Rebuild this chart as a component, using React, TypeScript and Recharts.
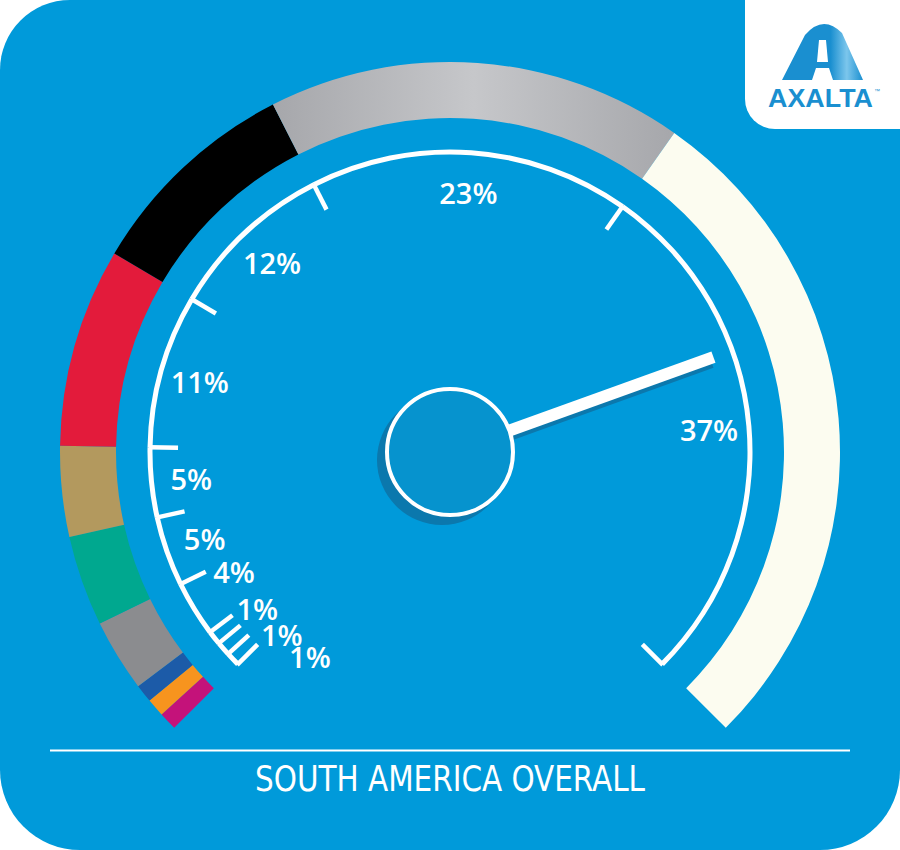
import { PieChart, Pie, Cell } from 'recharts'

// dial segments, read clockwise from the bottom-left end of the gauge
const segmentNames = ['Magenta', 'Orange', 'Blue', 'Gray', 'Green', 'Beige', 'Red', 'Black', 'Silver', 'White']
const shares = [1, 1, 1, 4, 5, 5, 11, 12, 23, 37]
const shareLabels = ['1%', '1%', '1%', '4%', '5%', '5%', '11%', '12%', '23%', '37%']
const needleValue = 76
const title = 'SOUTH AMERICA OVERALL'
const brand = 'AXALTA'

const palette = [
  '#C4127A',
  '#F7941E',
  '#1C5BA8',
  '#8B8C8F',
  '#00A88F',
  '#B3995E',
  '#E31B3B',
  '#000000',
  'url(#silverGrad)',
  '#FCFCF0',
]

const BG = '#009ADA'
const CX = 450
const CY = 452
const START = 225
const END = -45
const RAD = Math.PI / 180

const data = shares.map((value, i) => ({ name: segmentNames[i], value, label: shareLabels[i] }))

const polar = (cx: number, cy: number, r: number, angle: number) => ({
  x: cx + r * Math.cos(-angle * RAD),
  y: cy + r * Math.sin(-angle * RAD),
})

function renderScale(props: any) {
  const { cx, cy, startAngle, endAngle, midAngle, index, percent } = props
  const ticks = [startAngle]
  if (index === data.length - 1) ticks.push(endAngle)
  // the thin slices at the start are crowded, fan their labels out past the end of the dial
  let angle = midAngle
  let r = 260
  if (percent < 0.02) {
    angle = midAngle + 0.75 + (2 - index) * 5.6
    r = 248
  } else if (percent < 0.045) {
    angle = midAngle - 2.5
    r = 247
  }
  const p = polar(cx, cy, r, angle)
  return (
    <g key={`scale-${index}`}>
      {ticks.map((a: number, k: number) => {
        const o = polar(cx, cy, 301, a)
        const n = polar(cx, cy, 272, a)
        return <line key={k} x1={o.x} y1={o.y} x2={n.x} y2={n.y} stroke="#fff" strokeWidth={4.5} />
      })}
      <text
        x={p.x}
        y={p.y}
        fill="#fff"
        textAnchor="middle"
        dominantBaseline="central"
        fontFamily="'Open Sans', sans-serif"
        fontWeight={600}
        fontSize={29}
      >
        {data[index].label}
      </text>
    </g>
  )
}

function Background() {
  return (
    <svg width={900} height={850} style={{ position: 'absolute', left: 0, top: 0 }}>
      <defs>
        <linearGradient id="silverGrad" x1="0" y1="0" x2="1" y2="0">
          <stop offset="0%" stopColor="#A6A7AB" />
          <stop offset="50%" stopColor="#C6C7CA" />
          <stop offset="100%" stopColor="#A6A7AB" />
        </linearGradient>
        <linearGradient id="logoGrad" x1="0" y1="0" x2="1" y2="0">
          <stop offset="0%" stopColor="#1A8FD0" />
          <stop offset="60%" stopColor="#1A8FD0" />
          <stop offset="80%" stopColor="#7CC6EC" />
          <stop offset="100%" stopColor="#1A8FD0" />
        </linearGradient>
      </defs>
      <path d="M70,0 H900 V770 A80,80 0 0 1 820,850 H80 A80,80 0 0 1 0,770 V70 A70,70 0 0 1 70,0 Z" fill={BG} />
      <path d="M745,0 H900 V129 H775 A30,30 0 0 1 745,99 Z" fill="#fff" />
      <path d="M782,80 L805,35 Q823,14 842,33 L863,80 L833,80 L829,68 L816,68 L812,80 Z" fill="url(#logoGrad)" />
      <path d="M819,40 L826,40 L828,62 L817,62 Z" fill="#fff" />
      <text
        x={768}
        y={107}
        fill="#1A8FD0"
        fontFamily="'Liberation Sans', Arial, sans-serif"
        fontWeight={900}
        fontSize={26}
        textLength={105}
        lengthAdjust="spacingAndGlyphs"
      >
        {brand}
      </text>
      <text x={874} y={93} fill="#1A8FD0" fontFamily="'Liberation Sans', sans-serif" fontSize={6}>
        ™
      </text>
      <line x1={50} y1={750.5} x2={850} y2={750.5} stroke="#fff" strokeWidth={2} />
      <text
        x={450}
        y={791}
        fill="#fff"
        textAnchor="middle"
        fontFamily="'Liberation Sans Narrow', 'DejaVu Sans Condensed', sans-serif"
        fontSize={36}
        textLength={390}
        lengthAdjust="spacingAndGlyphs"
      >
        {title}
      </text>
    </svg>
  )
}

function Needle() {
  const angle = START - (needleValue / 100) * (START - END)
  const a = polar(CX, CY, 60, angle)
  const b = polar(CX, CY, 280, angle)
  return (
    <svg width={900} height={850} style={{ position: 'absolute', left: 0, top: 0, pointerEvents: 'none' }}>
      <line x1={a.x - 2} y1={a.y + 5} x2={b.x - 2} y2={b.y + 5} stroke="#0B78AD" strokeWidth={12} />
      <line x1={a.x} y1={a.y} x2={b.x} y2={b.y} stroke="#fff" strokeWidth={12} />
      <circle cx={CX - 8} cy={CY + 8} r={65} fill="#0B78AD" />
      <circle cx={CX} cy={CY} r={63} fill="#0693CE" stroke="#fff" strokeWidth={4} />
    </svg>
  )
}

export default function App() {
  return (
    <div style={{ position: 'relative', width: 900, height: 850 }}>
      <style>{'body{margin:0}'}</style>
      <Background />
      <div style={{ position: 'absolute', left: 0, top: 0 }}>
        <PieChart width={900} height={850} margin={{ top: 0, right: 0, bottom: 0, left: 0 }}>
          <Pie
            data={data}
            dataKey="value"
            nameKey="name"
            cx={CX}
            cy={CY}
            startAngle={START}
            endAngle={END}
            innerRadius={334}
            outerRadius={390}
            stroke="none"
            isAnimationActive={false}
          >
            {data.map((d, i) => (
              <Cell key={d.name} fill={palette[i]} />
            ))}
          </Pie>
          <Pie
            data={data}
            dataKey="value"
            nameKey="name"
            cx={CX}
            cy={CY}
            startAngle={START}
            endAngle={END}
            innerRadius={297.5}
            outerRadius={302.5}
            fill="#fff"
            stroke="none"
            label={renderScale}
            labelLine={false}
            isAnimationActive={false}
          />
        </PieChart>
      </div>
      <Needle />
    </div>
  )
}
